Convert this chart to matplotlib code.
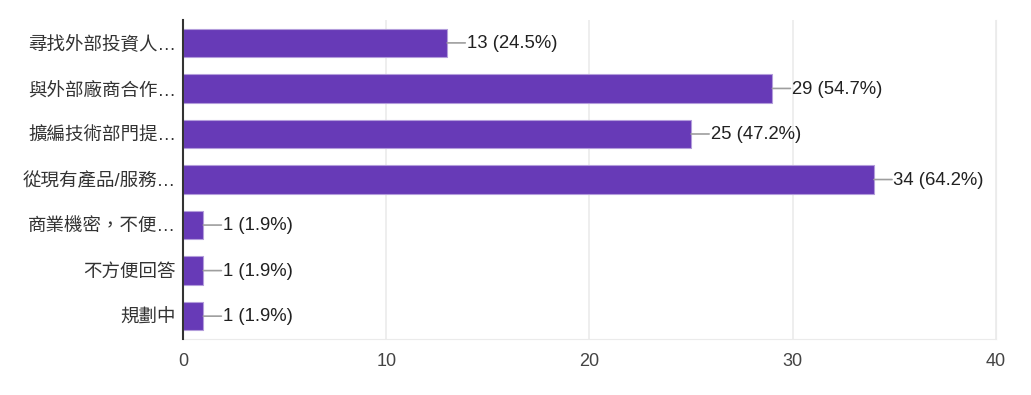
import matplotlib.pyplot as plt

plt.rcParams['font.family'] = ['Liberation Sans', 'Noto Sans CJK TC', 'DejaVu Sans']

# 選項與回覆數
categories = ['尋找外部投資人…', '與外部廠商合作…', '擴編技術部門提…', '從現有產品/服務…',
              '商業機密，不便…', '不方便回答', '規劃中']
counts = [13, 29, 25, 34, 1, 1, 1]
percents = [24.5, 54.7, 47.2, 64.2, 1.9, 1.9, 1.9]
x_ticks = [0, 10, 20, 30, 40]

fig = plt.figure(figsize=(10.31, 3.95), dpi=100)
ax = fig.add_axes([0.1775, 0.142, 0.7885, 0.807])

y = list(range(len(categories)))
ax.barh(y, counts, height=0.62, color='#673ab7', edgecolor='#b39ddb', linewidth=0.8, zorder=3)

for yi, c, p in zip(y, counts, percents):
    ax.annotate('', xy=(c, yi), xytext=(13, 0), textcoords='offset points',
                arrowprops=dict(arrowstyle='-', color='#9e9e9e', lw=1.2, shrinkA=0, shrinkB=0))
    ax.annotate(f'{c} ({p}%)', xy=(c, yi), xytext=(14, -0.5), textcoords='offset points',
                va='center', ha='left', fontsize=13.3, color='#212121')

ax.set_xlim(0, 40)
ax.set_ylim(len(categories) - 0.5, -0.5)
ax.set_xticks(x_ticks)
ax.set_yticks(y)
ax.set_yticklabels(categories, fontsize=13.3, color='#333333')
ax.tick_params(axis='x', length=0, labelsize=13, labelcolor='#444444', pad=10)
ax.tick_params(axis='y', length=0, pad=5)
ax.grid(axis='x', color='#ebebeb', linewidth=1.2, zorder=0)

ax.spines['top'].set_visible(False)
ax.spines['right'].set_color('#ebebeb')
ax.spines['bottom'].set_color('#ebebeb')
ax.spines['left'].set_color('#333333')
ax.spines['left'].set_linewidth(1.5)
ax.spines['left'].set_zorder(4)

fig.savefig('out.png', dpi=100)
